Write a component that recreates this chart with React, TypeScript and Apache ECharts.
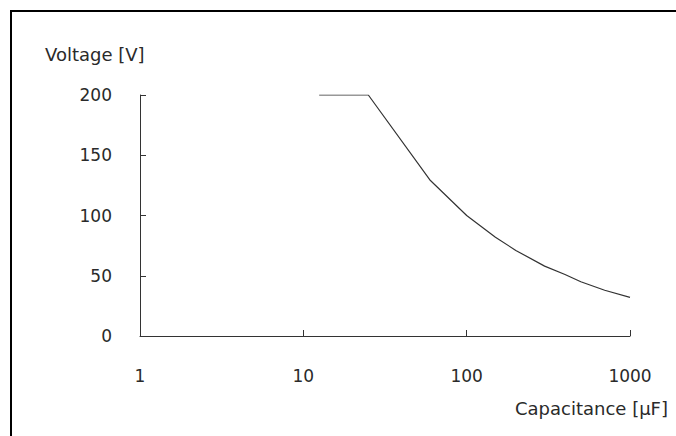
import React, { useEffect, useRef } from "react";
import * as echarts from "echarts";

const capacitance = [12.5, 25, 60, 100, 150, 200, 300, 400, 500, 700, 1000];
const voltage = [200, 200, 129, 100, 82, 71, 58, 51, 45, 38, 32];
const yTicks = { min: 0, max: 200, interval: 50 };
const xRange = { min: 1, max: 1000 };
const yName = "Voltage [V]";
const xName = "Capacitance [μF]";

export default function App() {
  const ref = useRef<HTMLDivElement>(null);
  useEffect(() => {
    const chart = echarts.init(ref.current!, null, { renderer: "svg" });
    const font = "'DejaVu Sans', sans-serif";
    const textColor = "#2a2a2a";
    chart.setOption({
      animation: false,
      backgroundColor: "#fff",
      grid: { left: 140, right: 46, top: 95, bottom: 100 },
      xAxis: {
        type: "log",
        logBase: 10,
        min: xRange.min,
        max: xRange.max,
        axisLine: { lineStyle: { color: "#333", width: 1 } },
        axisTick: { inside: true, length: 6, lineStyle: { color: "#333" } },
        minorTick: { show: false },
        splitLine: { show: false },
        axisLabel: {
          margin: 31,
          color: textColor,
          fontSize: 17,
          fontFamily: font,
          formatter: (v: number) => String(Math.round(v)),
        },
      },
      yAxis: {
        type: "value",
        min: yTicks.min,
        max: yTicks.max,
        interval: yTicks.interval,
        axisLine: { show: true, lineStyle: { color: "#333", width: 1 } },
        axisTick: { show: true, inside: true, length: 6, lineStyle: { color: "#333" } },
        splitLine: { show: false },
        axisLabel: { margin: 28, color: textColor, fontSize: 17, fontFamily: font },
      },
      series: [
        {
          type: "line",
          data: capacitance.map((c, i) => [c, voltage[i]]),
          showSymbol: false,
          lineStyle: { color: "#333", width: 1.2 },
        },
      ],
      graphic: [
        { type: "line", shape: { x1: 10, y1: 11, x2: 676, y2: 11 }, style: { stroke: "#000", lineWidth: 2 } },
        { type: "line", shape: { x1: 11, y1: 10, x2: 11, y2: 436 }, style: { stroke: "#000", lineWidth: 2 } },
        {
          type: "text",
          left: 45,
          top: 45,
          style: { text: yName, fill: textColor, font: `18px ${font}` },
        },
        {
          type: "text",
          right: 8,
          top: 399,
          style: { text: xName, fill: textColor, font: `18px ${font}` },
        },
      ],
    });
    return () => chart.dispose();
  }, []);
  return (
    <div
      ref={ref}
      style={{ position: "fixed", left: 0, top: 0, width: 676, height: 436, background: "#fff" }}
    />
  );
}
